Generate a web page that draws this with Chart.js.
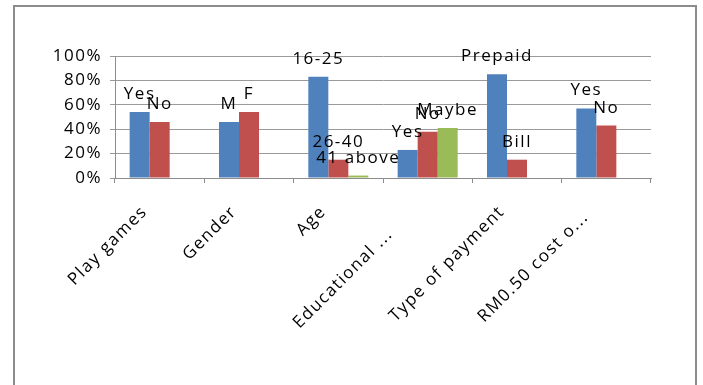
<!DOCTYPE html>
<html>
<head>
<meta charset="utf-8">
<script src="https://cdn.jsdelivr.net/npm/chart.js@4.4.1/dist/chart.umd.min.js"></script>
<style>
  html, body { margin: 0; padding: 0; background: #ffffff; }
  #wrap { position: relative; width: 703px; height: 385px; overflow: hidden; }
  #frame {
    position: absolute; left: 13px; top: 5px; width: 680px; height: 420px;
    border: 2px solid #8c8c8c;
  }
  #c { position: absolute; left: 0; top: 0; }
</style>
</head>
<body>
<div id="wrap">
  <div id="frame"></div>
  <canvas id="c" width="703" height="385"></canvas>
</div>
<script>
// Survey questions along the x axis
const categories = ["Play games", "Gender", "Age", "Educational ...", "Type of payment", "RM0.50 cost o..."];

// Share of respondents (%) for each answer option
const option1Values = [54, 46, 83, 23, 85, 57];
const option2Values = [46, 54, 15, 38, 15, 43];
const option3Values = [null, null, 2, 41, null, null];

// Answer names written above each bar
const option1Labels = ["Yes", "M", "16-25", "Yes", "Prepaid", "Yes"];
const option2Labels = ["No", "F", "26-40", "No", "Bill", "No"];
const option3Labels = [null, null, "41 above", "Maybe", null, null];

// Y axis tick values
const yTicks = [0, 20, 40, 60, 80, 100];

const FONT = { family: "'Open Sans', Lato, sans-serif", size: 17 };
const SPACING = "1.5px";

// Category label placement: anchor offset from the tick, and extra slide
// along the slanted text for the shortened (ellipsised) names
const X_LABEL_DX = -15;
const X_LABEL_DY = 31;
const xLabelSlide = [0, 0, 0, 32, 0, 8];

// Widen letters a little on the canvas text
const spacingPlugin = {
  id: "spacing",
  beforeUpdate(chart) { chart.ctx.letterSpacing = SPACING; },
  beforeDraw(chart) { chart.ctx.letterSpacing = SPACING; }
};

// Slanted category names under the x axis
const xLabelPlugin = {
  id: "xLabels",
  afterDraw(chart) {
    const ctx = chart.ctx;
    const xs = chart.scales.x;
    ctx.save();
    ctx.letterSpacing = SPACING;
    ctx.font = FONT.size + "px " + FONT.family;
    ctx.fillStyle = "#000000";
    ctx.textAlign = "right";
    ctx.textBaseline = "middle";
    categories.forEach((name, i) => {
      const px = xs.getPixelForTick(i) + X_LABEL_DX;
      const py = chart.chartArea.bottom + X_LABEL_DY;
      ctx.save();
      ctx.translate(px, py);
      ctx.rotate(-Math.PI / 4);
      ctx.fillText(name, -xLabelSlide[i], 0);
      ctx.restore();
    });
    ctx.restore();
  }
};

// Answer names above the bars
const barLabelPlugin = {
  id: "barLabels",
  afterDatasetsDraw(chart) {
    const ctx = chart.ctx;
    const labelSets = [option1Labels, option2Labels, option3Labels];
    ctx.save();
    ctx.letterSpacing = SPACING;
    ctx.font = FONT.size + "px " + FONT.family;
    ctx.fillStyle = "#000000";
    ctx.textAlign = "center";
    ctx.textBaseline = "alphabetic";
    labelSets.forEach((labels, i) => {
      const meta = chart.getDatasetMeta(i);
      meta.data.forEach((bar, j) => {
        const text = labels[j];
        if (text == null) return;
        const v = chart.data.datasets[i].data[j];
        if (v == null) return;
        ctx.fillText(text, bar.x, bar.y - 13);
      });
    });
    ctx.restore();
  }
};

const common = { categoryPercentage: 0.672, barPercentage: 1.0, borderWidth: 0 };

new Chart(document.getElementById("c"), {
  type: "bar",
  data: {
    labels: categories,
    datasets: [
      Object.assign({ label: "Option 1", data: option1Values, backgroundColor: "#4F81BD" }, common),
      Object.assign({ label: "Option 2", data: option2Values, backgroundColor: "#C0504D" }, common),
      Object.assign({ label: "Option 3", data: option3Values, backgroundColor: "#9BBB59" }, common)
    ]
  },
  options: {
    responsive: false,
    animation: false,
    devicePixelRatio: 1,
    layout: { padding: { left: 0, right: 52, top: 56, bottom: 0 } },
    plugins: { legend: { display: false }, tooltip: { enabled: false } },
    scales: {
      x: {
        afterFit(scale) { scale.height = 207; },
        grid: { offset: true, drawOnChartArea: false, drawTicks: true, tickLength: 5, color: "#8c8c8c" },
        border: { display: true, color: "#8c8c8c" },
        ticks: { display: false }
      },
      y: {
        min: 0, max: 100,
        afterFit(scale) { scale.width = 115; },
        afterBuildTicks(scale) { scale.ticks = yTicks.map(v => ({ value: v })); },
        grid: { color: "#9a9a9a", drawTicks: true, tickLength: 5 },
        border: { display: true, color: "#8c8c8c" },
        ticks: { color: "#000000", font: FONT, padding: 8, callback: v => v + "%" }
      }
    }
  },
  plugins: [spacingPlugin, barLabelPlugin, xLabelPlugin]
});
</script>
</body>
</html>
